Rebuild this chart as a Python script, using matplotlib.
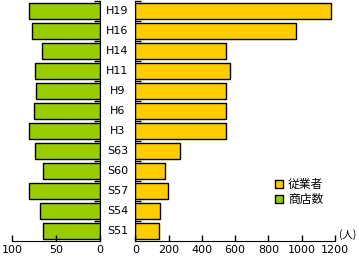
import matplotlib
matplotlib.use("Agg")
import matplotlib.pyplot as plt
from matplotlib.patches import Patch
import numpy as np

categories = ["H19", "H16", "H14", "H11", "H9", "H6", "H3", "S63", "S60", "S57", "S54", "S51"]
stores = [81.5, 78, 66.5, 74.5, 72.5, 75.5, 80.5, 74.5, 65.5, 80.5, 68, 65.5]
employees = [1178, 968, 547, 571, 547, 547, 547, 267, 180, 198, 150, 144]

plt.rcParams['font.family'] = ['DejaVu Sans', 'Noto Sans CJK JP']
W, H = 359, 257
fig = plt.figure(figsize=(W/100, H/100), dpi=100)
green = '#99CC00'
yellow = '#FFCC00'

bottom = (H - 240.7) / H
top = (H - 0.7) / H
axL = fig.add_axes([12.3/W, bottom, (100 - 12.3)/W, top - bottom])
axR = fig.add_axes([135.3/W, bottom, (335 - 135.3)/W, top - bottom])

n = len(categories)
y = np.arange(n)[::-1]

axL.barh(y, stores, height=0.8, color=green, edgecolor='black', linewidth=1)
axR.barh(y, employees, height=0.8, color=yellow, edgecolor='black', linewidth=1)

axL.set_xlim(100, 0)
axR.set_xlim(0, 1200)
for ax in (axL, axR):
    ax.set_ylim(-0.5, n - 0.5)
    ax.set_yticks([])
    ax.set_yticks(np.arange(n) + 0.5, minor=True)
    ax.tick_params(axis='y', which='minor', direction='in', length=4, width=1)
    ax.tick_params(axis='x', direction='in', length=4, width=1, labelsize=8, pad=3)
    ax.spines['top'].set_visible(False)

axL.spines['left'].set_visible(False)
axR.spines['right'].set_visible(False)
axL.yaxis.set_ticks_position('right')
axR.yaxis.set_ticks_position('left')
axL.set_xticks([100, 50, 0])
axR.set_xticks([0, 200, 400, 600, 800, 1000, 1200])

for yi, c in zip(y, categories):
    axL.text(1.2, yi, c, transform=axL.get_yaxis_transform(), ha='center', va='center', fontsize=8)

fig.text(348/W, (H - 235)/H, '(人)', ha='center', va='center', fontsize=7.5, family=['Noto Sans CJK JP'])

handles = [Patch(facecolor=yellow, edgecolor='black', linewidth=1),
           Patch(facecolor=green, edgecolor='black', linewidth=1)]
fig.legend(handles, ['従業者', '商店数'], loc='upper left', bbox_to_anchor=(275/W, (H - 178)/H),
           frameon=False, handlelength=0.7, handleheight=0.7, handletextpad=0.4,
           labelspacing=0.15, borderpad=0, borderaxespad=0,
           prop={'family': ['Noto Sans CJK JP'], 'size': 8.5})

fig.savefig('out.png', dpi=100)
